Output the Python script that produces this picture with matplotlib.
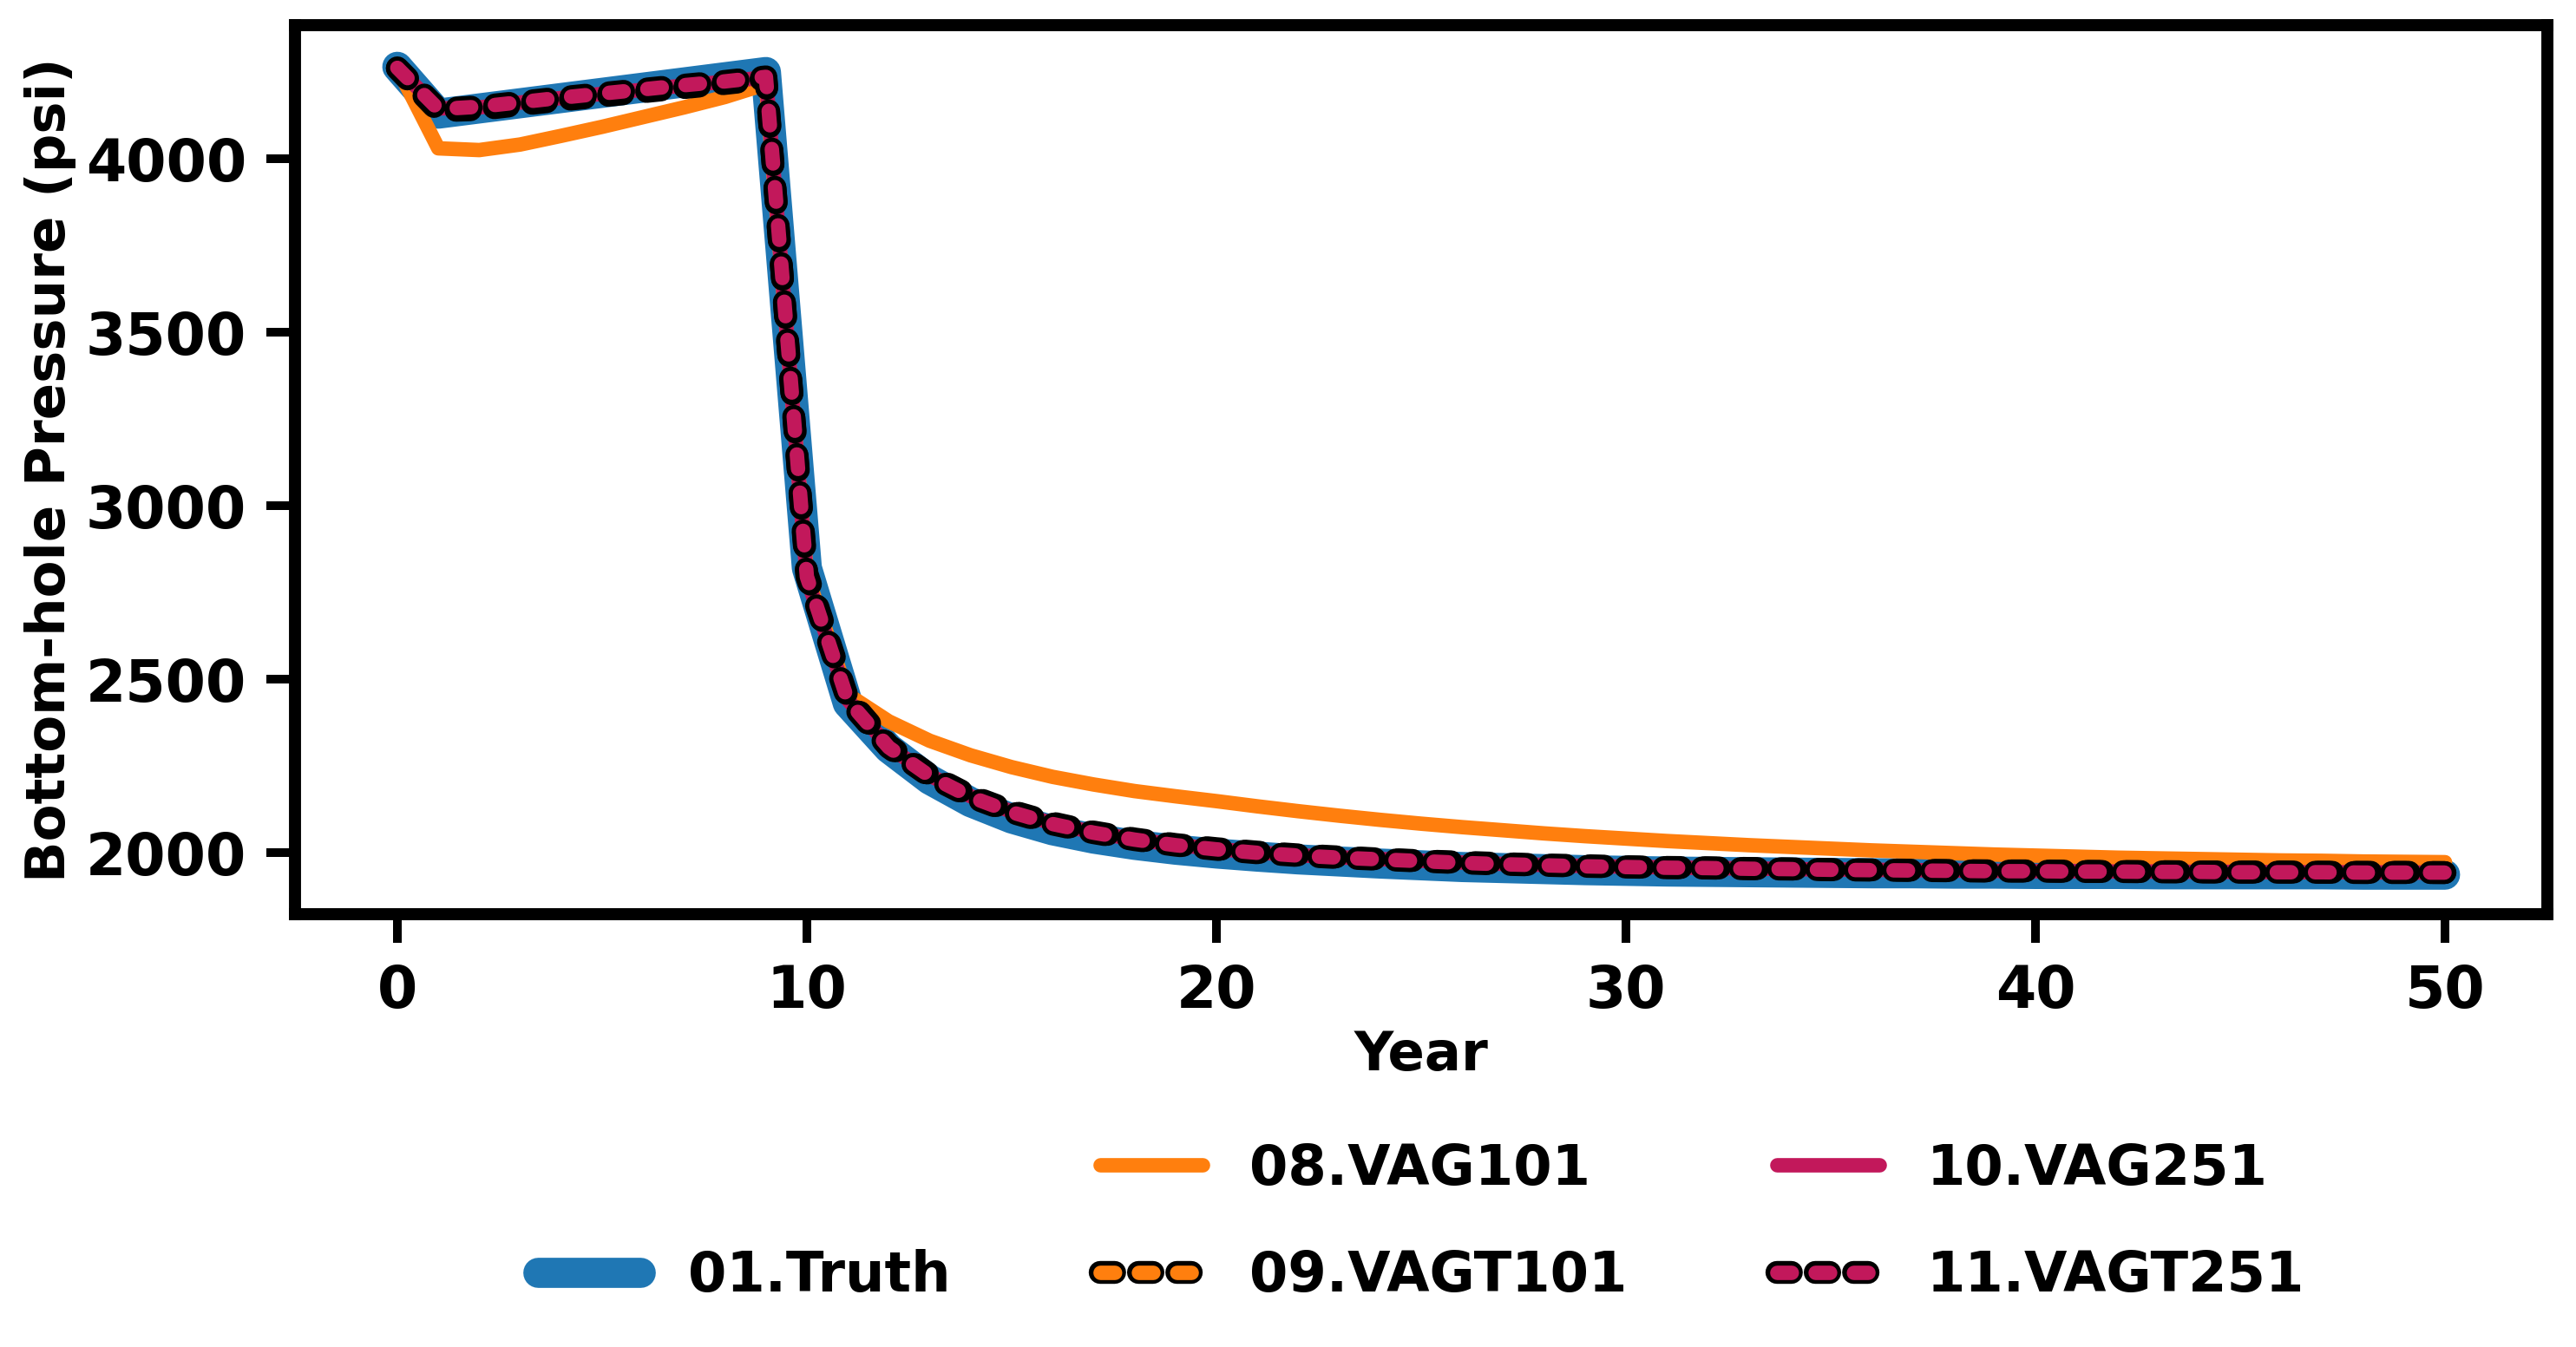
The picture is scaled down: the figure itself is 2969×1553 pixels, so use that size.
import matplotlib
matplotlib.use("Agg")
import matplotlib.pyplot as plt
import matplotlib.patheffects as pe
from matplotlib.lines import Line2D

years = list(range(51))

truth = [4265, 4130, 4145, 4160, 4175, 4190, 4205, 4220, 4235, 4250,
         2820, 2430, 2300, 2210, 2145, 2098, 2064, 2040, 2022, 2008,
         1997, 1988, 1980, 1974, 1968, 1963, 1958, 1955, 1952, 1949,
         1947, 1945, 1944, 1943, 1942, 1941, 1940, 1940, 1939, 1939,
         1938, 1938, 1938, 1937, 1937, 1937, 1937, 1937, 1936, 1936, 1936]

vag101 = [4262, 4030, 4025, 4041, 4066, 4092, 4120, 4148, 4178, 4215,
          2800, 2455, 2378, 2322, 2280, 2246, 2218, 2196, 2177, 2162,
          2148, 2133, 2119, 2106, 2094, 2083, 2073, 2064, 2055, 2047,
          2040, 2033, 2027, 2021, 2016, 2011, 2006, 2002, 1998, 1994,
          1991, 1988, 1985, 1983, 1981, 1979, 1977, 1976, 1974, 1973, 1972]

vagt101 = [4260, 4138, 4142, 4156, 4169, 4181, 4193, 4205, 4217, 4230,
           2805, 2445, 2308, 2224, 2163, 2119, 2085, 2059, 2039, 2023,
           2011, 2001, 1993, 1987, 1981, 1976, 1972, 1968, 1964, 1962,
           1959, 1957, 1956, 1954, 1953, 1951, 1950, 1949, 1948, 1947,
           1947, 1946, 1945, 1945, 1944, 1944, 1944, 1943, 1943, 1943, 1942]

vag251 = [4262, 4145, 4148, 4162, 4175, 4187, 4199, 4211, 4222, 4235,
          2790, 2440, 2305, 2222, 2162, 2118, 2084, 2058, 2038, 2022,
          2010, 2000, 1992, 1986, 1981, 1976, 1971, 1967, 1964, 1961,
          1959, 1957, 1955, 1954, 1952, 1951, 1950, 1949, 1948, 1947,
          1946, 1946, 1945, 1945, 1944, 1944, 1943, 1943, 1943, 1942, 1942]

vagt251 = [4262, 4143, 4150, 4163, 4176, 4188, 4200, 4212, 4223, 4236,
           2795, 2438, 2303, 2220, 2160, 2116, 2082, 2057, 2037, 2021,
           2009, 1999, 1991, 1985, 1980, 1975, 1970, 1966, 1963, 1960,
           1958, 1956, 1955, 1953, 1952, 1950, 1949, 1948, 1947, 1946,
           1946, 1945, 1945, 1944, 1944, 1943, 1943, 1943, 1942, 1942, 1942]

plt.rcParams['font.family'] = 'DejaVu Sans'
plt.rcParams['font.weight'] = 'bold'
plt.rcParams['axes.labelweight'] = 'bold'

fig = plt.figure(figsize=(2969 / 200, 1553 / 200), dpi=200)
ax = fig.add_axes([0.1145, 0.3213, 0.8744, 0.66])

outline = [pe.Stroke(linewidth=9.5, foreground='k'), pe.Normal()]

ax.plot(years, truth, color='#1f77b4', lw=12.5, solid_capstyle='round',
        solid_joinstyle='round', label='01.Truth')
ax.plot(years, vag101, color='#ff7f0e', lw=6, solid_capstyle='round',
        solid_joinstyle='round', label='08.VAG101')
ax.plot(years, vag251, color='#c2185b', lw=6, solid_capstyle='round',
        solid_joinstyle='round', label='10.VAG251')
ax.plot(years, vagt101, color='#ff7f0e', lw=6, ls=':', dash_capstyle='round',
        path_effects=outline, label='09.VAGT101')
ax.plot(years, vagt251, color='#c2185b', lw=6, ls=':', dash_capstyle='round',
        path_effects=outline, label='11.VAGT251')

ax.set_xlim(-2.5, 52.5)
ax.set_ylim(1822, 4385)
ax.set_xticks([0, 10, 20, 30, 40, 50])
ax.set_yticks([2000, 2500, 3000, 3500, 4000])

for sp in ax.spines.values():
    sp.set_linewidth(5)
ax.tick_params(length=12, width=3.6, labelsize=24, pad=8)

ax.set_xlabel('Year', fontsize=22.5, fontweight='bold')
ax.set_ylabel('Bottom-hole Pressure (psi)', fontsize=22.5, fontweight='bold')

# blank first entry so Truth sits alone in the lower row of column 1
h = {l.get_label(): l for l in ax.get_lines()}
blank = Line2D([], [], color='none')
handles = [blank, h['01.Truth'], h['08.VAG101'], h['09.VAGT101'],
           h['10.VAG251'], h['11.VAGT251']]
labels = ['', '01.Truth', '08.VAG101', '09.VAGT101', '10.VAG251', '11.VAGT251']
ax.legend(handles, labels, ncol=3, loc='upper center',
          bbox_to_anchor=(0.5, -0.2), frameon=False, fontsize=23,
          handlelength=1.85, handletextpad=0.85, columnspacing=2.7,
          labelspacing=0.97)

fig.savefig('out.png', dpi=200)
